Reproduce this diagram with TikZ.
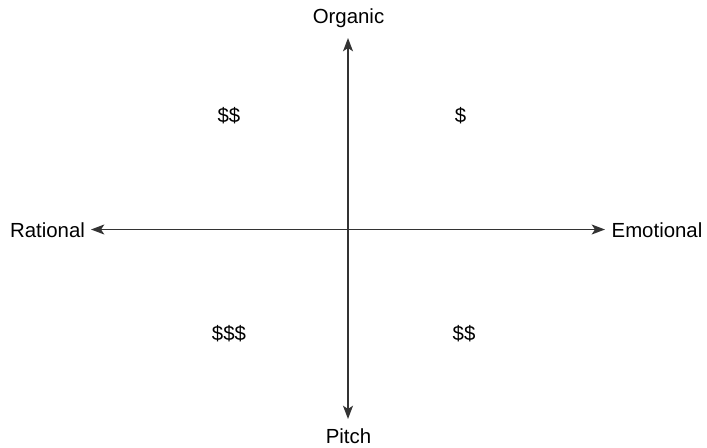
\documentclass[tikz,border=0pt]{standalone}
\usepackage{fontspec}
\setmainfont{Liberation Sans}
\usetikzlibrary{arrows.meta}

\definecolor{axisgray}{HTML}{333333}

\tikzset{
  axis/.style={{Stealth[length=10pt,width=7.5pt,inset=2.5pt]}-{Stealth[length=10pt,width=7.5pt,inset=2.5pt]}, line width=1.2pt, draw=axisgray},
  axislabel/.style={font=\fontsize{15.3}{18}\selectfont, text=black, inner sep=0pt},
  price/.style={font=\fontsize{15.3}{18}\selectfont, text=black, inner sep=0pt}
}

\begin{document}
\begin{tikzpicture}[x=0.75pt, y=-0.75pt]
        \useasboundingbox (0,0) rectangle (707,447);

        % --- Axis labels ---
        \node[axislabel] (organic) at (348.5, 18) {Organic};
        \node[axislabel] (pitch) at (348.5, 436.5) {Pitch};
        \node[axislabel] (rational) at (47.5, 230) {Rational};
        \node[axislabel] (emotional) at (657, 230) {Emotional};

        % --- Arrow tips ---
        \coordinate (top) at (348, 38);
        \coordinate (bottom) at (348, 419);
        \coordinate (left) at (91, 229.5);
        \coordinate (right) at (605, 229.5);

        % --- Axes ---
        \draw[axis] (top) -- (bottom);
        \draw[axis] (left) -- (right);

        % --- Cost per quadrant ---
        \node[price] (rationalorganic) at (229, 116) {\$\$};
        \node[price] (emotionalorganic) at (460.5, 116) {\$};
        \node[price] (rationalpitch) at (229, 334) {\$\$\$};
        \node[price] (emotionalpitch) at (464, 334) {\$\$};

    \end{tikzpicture}
\end{document}
